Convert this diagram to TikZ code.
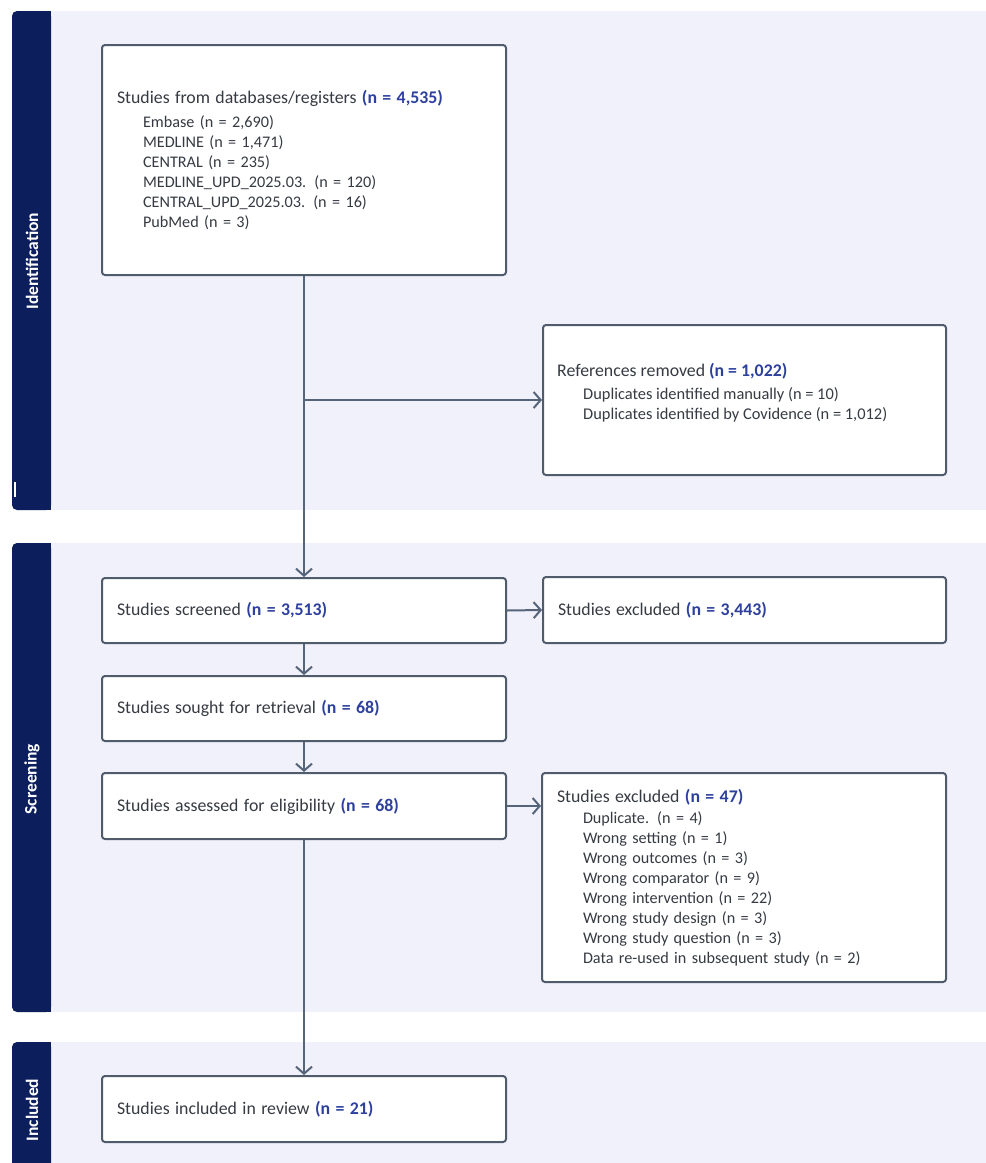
\documentclass[tikz,border=0pt]{standalone}
\usepackage{fontspec}
\setmainfont{Carlito}
\usetikzlibrary{arrows.meta}
\definecolor{navy}{HTML}{0C1E5B}
\definecolor{panelc}{HTML}{F0F1FB}
\definecolor{boxc}{HTML}{505B6C}
\definecolor{linec}{HTML}{56647A}
\definecolor{txtc}{HTML}{363A42}
\definecolor{numc}{HTML}{2E409E}
\newcommand{\numb}[1]{\textcolor{numc}{\textbf{#1}}}
\newcommand{\indit}{\hspace*{26pt}}
\newcommand{\ttl}{\fontsize{17.8}{20}\selectfont}
\begin{document}
\begin{tikzpicture}[x=1pt,y=-1pt,
  box/.style={draw=boxc, line width=2pt, rounded corners=3pt, fill=white,
    anchor=north west, align=left, inner xsep=15pt, inner ysep=0pt, text=txtc,
    font=\fontsize{16.2}{20}\selectfont},
  boxtext/.style={anchor=north west, align=left, inner sep=0pt, text=txtc,
    font=\fontsize{16.4}{20}\selectfont},
  arr/.style={draw=linec, line width=2pt, -{Straight Barb[length=7pt,width=16pt]}},
  lanetext/.style={rotate=90, text=white, font=\bfseries\fontsize{17.5}{20}\selectfont}
]
\useasboundingbox (0,0) rectangle (986,1163);
\fill[white] (0,0) rectangle (986,1163);
% panels
\fill[panelc] (40,11) rectangle (986,510);
\fill[panelc] (40,543) rectangle (986,1012);
\fill[panelc] (40,1042) rectangle (986,1163);
% side bars
\fill[navy, rounded corners=5pt] (12,11) rectangle (51,510);
\fill[navy] (32,11) rectangle (51,510);
\fill[navy, rounded corners=5pt] (12,543) rectangle (51,1012);
\fill[navy] (32,543) rectangle (51,1012);
\fill[navy, rounded corners=5pt] (12,1042) rectangle (51,1180);
\fill[navy] (32,1042) rectangle (51,1180);
\draw[white, line width=1.2pt] (15,482) -- (15,497);
\node[lanetext] (lid) at (32,261) {Identification};
\node[lanetext] (lsc) at (32,779) {Screening};
\node[lanetext] (lin) at (32,1110) {Included};
% boxes
\node[box, minimum width=404pt, minimum height=230pt, text width=374pt] (db) at (101,44)
 {{\ttl Studies from databases/registers \numb{(n = 4,535)}}\\[4pt]
  \indit Embase (n = 2,690)\\
  \indit MEDLINE (n = 1,471)\\
  \indit CENTRAL (n = 235)\\
  \indit MEDLINE\_UPD\_2025.03. (n = 120)\\
  \indit CENTRAL\_UPD\_2025.03. (n = 16)\\
  \indit PubMed (n = 3)};
\node[box, minimum width=403pt, minimum height=150pt] (ref) at (542,324) {};
\node[boxtext] (reft) at (557,363)
 {{\ttl References removed \numb{(n = 1,022)}}\\[3pt]
  \indit Duplicates identified manually (n = 10)\\
  \indit Duplicates identified by Covidence (n = 1,012)};
\node[box, minimum width=404pt, minimum height=65pt, text width=374pt] (scr) at (101,577)
 {{\ttl Studies screened \numb{(n = 3,513)}}};
\node[box, minimum width=403pt, minimum height=66pt, text width=373pt] (exa) at (542,576)
 {{\ttl Studies excluded \numb{(n = 3,443)}}};
\node[box, minimum width=404pt, minimum height=65pt, text width=374pt] (sgt) at (101,675)
 {{\ttl Studies sought for retrieval \numb{(n = 68)}}};
\node[box, minimum width=404pt, minimum height=66pt, text width=374pt] (ass) at (101,772)
 {{\ttl Studies assessed for eligibility \numb{(n = 68)}}};
\node[box, minimum width=404pt, minimum height=209pt, text width=374pt] (exb) at (541,772)
 {{\ttl Studies excluded \numb{(n = 47)}}\\[1pt]
  \indit Duplicate. (n = 4)\\
  \indit Wrong setting (n = 1)\\
  \indit Wrong outcomes (n = 3)\\
  \indit Wrong comparator (n = 9)\\
  \indit Wrong intervention (n = 22)\\
  \indit Wrong study design (n = 3)\\
  \indit Wrong study question (n = 3)\\
  \indit Data re-used in subsequent study (n = 2)};
\node[box, minimum width=404pt, minimum height=66pt, text width=374pt] (inc) at (101,1075)
 {{\ttl Studies included in review \numb{(n = 21)}}};
% connectors
\coordinate (j1) at (db.south |- ref.west);
\draw[arr] (db.south) -- (scr.north);
\draw[arr] (j1) -- (ref.west);
\draw[arr] (scr.east) -- (exa.west);
\draw[arr] (scr.south) -- (sgt.north);
\draw[arr] (sgt.south) -- (ass.north);
\draw[arr] (ass.east) -- (ass.east -| exb.west);
\draw[arr] (ass.south) -- (inc.north);
\end{tikzpicture}
\end{document}
